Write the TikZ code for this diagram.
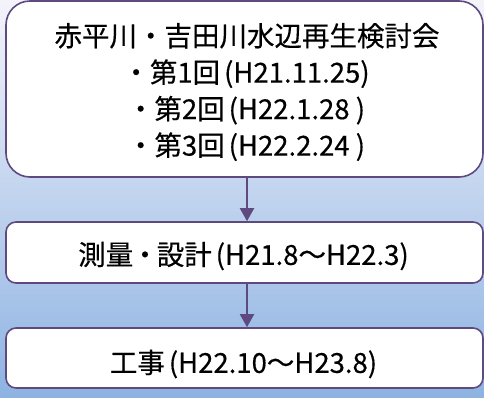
\documentclass[tikz,border=0pt]{standalone}
\usepackage{fontspec}
\setmainfont{Noto Sans CJK JP}[FakeBold=0.4]
\usetikzlibrary{arrows.meta}
\definecolor{bordc}{HTML}{5E4A7E}
\definecolor{bgtop}{HTML}{F4F3FA}
\definecolor{bgbot}{HTML}{8DB3E2}
\newcommand{\lp}{\kern4pt(}
\newcommand{\rp}{)\kern2pt}
\begin{document}
\begin{tikzpicture}[x=1pt,y=-1pt,
  box/.style={draw=bordc,line width=1.6pt,fill=white,minimum width=477pt,inner sep=0pt},
  txt/.style={inner sep=0pt,align=center,font=\fontsize{27.5}{36.5}\selectfont},
  conn/.style={draw=bordc,line width=2pt,-{Triangle[length=13pt,width=14pt]}}]
\shade[top color=bgtop,bottom color=bgbot] (0,0) rectangle (484,397);
\useasboundingbox (0,0) rectangle (484,397);
\node[box,rounded corners=24pt,minimum height=176pt] (b1) at (244.5,89) {};
\node[txt] (t1) at (247,92)
  {赤平川・吉田川水辺再生検討会\\・第1回\lp H21.11.25\rp\\・第2回\lp H22.1.28 \rp\\・第3回\lp H22.2.24 \rp};
\node[box,rounded corners=10pt,minimum height=61pt] (b2) at (244.5,252.5) {};
\node[txt] (t2) at (244.5,256) {測量\kern-2pt・\kern-2pt設計\lp H21.8～H22.3\rp};
\node[box,rounded corners=10pt,minimum height=60pt] (b3) at (244.5,358) {};
\node[txt] (t3) at (244.5,364) {工事\lp H22.10～H23.8\rp};
\draw[conn] ([xshift=2.5pt]b1.south) -- ([xshift=2.5pt]b2.north);
\draw[conn] ([xshift=2.5pt]b2.south) -- ([xshift=2.5pt]b3.north);
\end{tikzpicture}
\end{document}
